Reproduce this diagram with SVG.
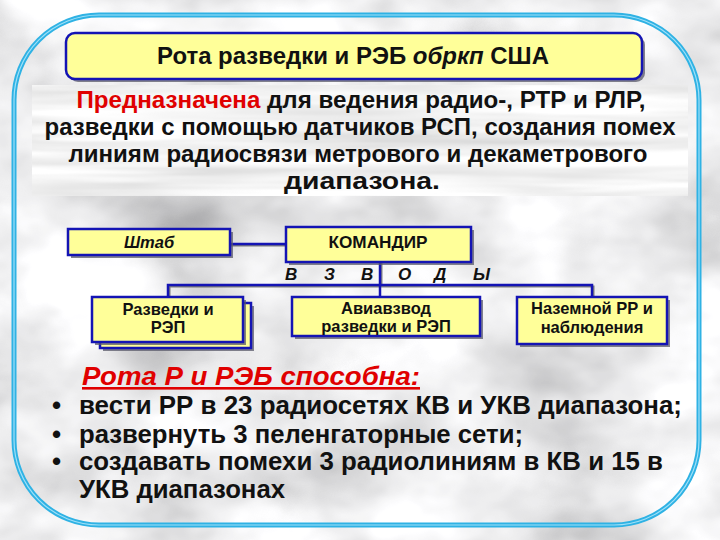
<svg xmlns="http://www.w3.org/2000/svg" width="720" height="540" viewBox="0 0 720 540">
<defs>
<filter id="marble" x="0" y="0" width="100%" height="100%">
<feTurbulence type="fractalNoise" baseFrequency="0.008 0.012" numOctaves="4" seed="7" result="n"/>
<feColorMatrix in="n" type="matrix" values="0.33 0.33 0.33 0 0  0.33 0.33 0.33 0 0  0.33 0.33 0.33 0 0  0 0 0 0 1" result="g"/>
<feComponentTransfer in="g">
<feFuncR type="linear" slope="1.5" intercept="0.1"/>
<feFuncG type="linear" slope="1.5" intercept="0.1"/>
<feFuncB type="linear" slope="1.5" intercept="0.11"/>
</feComponentTransfer>
</filter>
<filter id="streak" x="0" y="0" width="100%" height="100%">
<feTurbulence type="fractalNoise" baseFrequency="0.004 0.06" numOctaves="3" seed="3" result="n"/>
<feColorMatrix in="n" type="matrix" values="0.33 0.33 0.33 0 0  0.33 0.33 0.33 0 0  0.33 0.33 0.33 0 0  0 0 0 0 1" result="g"/>
<feComponentTransfer in="g">
<feFuncR type="linear" slope="1.0" intercept="0.4"/>
<feFuncG type="linear" slope="1.0" intercept="0.4"/>
<feFuncB type="linear" slope="1.0" intercept="0.4"/>
</feComponentTransfer>
</filter>
<style>
.box{fill:#ffff99;stroke:#1414b4;stroke-width:2.5}
.sh{fill:#5a5a6a;opacity:0.75}
.t{font-family:"Liberation Sans",Arial,sans-serif;font-weight:bold;fill:#111}
.bt{font-size:16.5px;text-anchor:middle}
.it{font-style:italic}
.desc{font-size:24px;text-anchor:middle}
.li{font-size:26px}
.con{stroke:#1414b4;stroke-width:2.5;fill:none}
.consh{stroke:#333;stroke-width:2;fill:none;opacity:0.6}
</style>
</defs>
<rect x="0" y="0" width="720" height="540" fill="#d8d8d8"/>
<rect x="0" y="0" width="720" height="540" filter="url(#marble)"/>
<rect x="32" y="85" width="656" height="111" filter="url(#streak)"/>
<g id="frame">
<rect x="14" y="15" width="685" height="510" rx="85" ry="85" fill="none" stroke="#2fb2e4" stroke-width="5"/>
<rect x="14" y="15" width="685" height="510" rx="85" ry="85" fill="none" stroke="#9fe0f8" stroke-width="1.2"/>
</g>
<g id="title">
<rect x="69" y="36" width="576" height="46" rx="9" class="sh"/>
<rect x="66" y="33" width="576" height="46" rx="9" class="box"/>
<text x="353" y="64" class="t" font-size="23" text-anchor="middle" textLength="392" lengthAdjust="spacingAndGlyphs">Рота разведки и РЭБ <tspan class="it">обркп</tspan> США</text>
</g>
<g id="description" class="t desc">
<text x="361" y="108" textLength="569" lengthAdjust="spacingAndGlyphs"><tspan fill="#e00000">Предназначена</tspan> для ведения радио-, РТР и РЛР,</text>
<text x="360" y="135" textLength="631" lengthAdjust="spacingAndGlyphs">разведки с помощью датчиков РСП, создания помех</text>
<text x="358" y="162" textLength="579" lengthAdjust="spacingAndGlyphs">линиям радиосвязи метрового и декаметрового</text>
<text x="362" y="189" textLength="156" lengthAdjust="spacingAndGlyphs">диапазона.</text>
</g>
<g id="connectors">
<path class="consh" d="M230 245.5 H287 M381.5 263 V286.5 M169.5 298 V286.5 H593.5 V298"/>
<path class="con" d="M230 244 H287 M380 262 V297 M168 297 V285 H592 V297"/>
</g>
<g id="shtab">
<rect x="71" y="232" width="162" height="26" class="sh"/>
<rect x="68" y="229" width="162" height="26" class="box"/>
<text x="149" y="248" class="t bt it" font-size="17">Штаб</text>
</g>
<g id="komandir">
<rect x="289" y="230" width="185" height="35" class="sh"/>
<rect x="286" y="227" width="185" height="35" class="box"/>
<text x="378" y="248" class="t bt" font-size="17" textLength="99" lengthAdjust="spacingAndGlyphs">КОМАНДИР</text>
</g>
<g id="vzvody" class="t it" font-size="17">
<text x="285" y="280">В</text>
<text x="324" y="280">З</text>
<text x="361" y="280">В</text>
<text x="398" y="280">О</text>
<text x="434" y="280">Д</text>
<text x="473" y="280">Ы</text>
</g>
<g id="razvedki">
<rect x="103" y="306" width="151" height="45" class="sh"/>
<rect x="100" y="303" width="151" height="45" class="box"/>
<rect x="95" y="300" width="151" height="45" class="sh"/>
<rect x="92" y="297" width="151" height="45" class="box"/>
<text x="168" y="315" class="t bt">Разведки и</text>
<text x="168" y="333" class="t bt">РЭП</text>
</g>
<g id="aviavzvod">
<rect x="295" y="300" width="188" height="39" class="sh"/>
<rect x="292" y="297" width="188" height="39" class="box"/>
<text x="386" y="314" class="t bt">Авиавзвод</text>
<text x="386" y="332" class="t bt">разведки и РЭП</text>
</g>
<g id="nazemnoy">
<rect x="520" y="300" width="150" height="47" class="sh"/>
<rect x="517" y="297" width="150" height="47" class="box"/>
<text x="592" y="314" class="t bt">Наземной РР и</text>
<text x="592" y="333" class="t bt">наблюдения</text>
</g>
<g id="capabilities" class="t li">
<text x="82" y="385" fill="#e00000" font-style="italic" text-decoration="underline" font-size="26" textLength="338" lengthAdjust="spacingAndGlyphs">Рота Р и РЭБ способна:</text>
<text x="52" y="414">•</text>
<text x="79" y="414" textLength="603" lengthAdjust="spacingAndGlyphs">вести РР в 23 радиосетях КВ и УКВ диапазона;</text>
<text x="52" y="443">•</text>
<text x="79" y="443" textLength="444" lengthAdjust="spacingAndGlyphs">развернуть 3 пеленгаторные сети;</text>
<text x="52" y="470">•</text>
<text x="79" y="470" textLength="584" lengthAdjust="spacingAndGlyphs">создавать помехи 3 радиолиниям в КВ и 15 в</text>
<text x="79" y="498" textLength="206" lengthAdjust="spacingAndGlyphs">УКВ диапазонах</text>
</g>
</svg>
